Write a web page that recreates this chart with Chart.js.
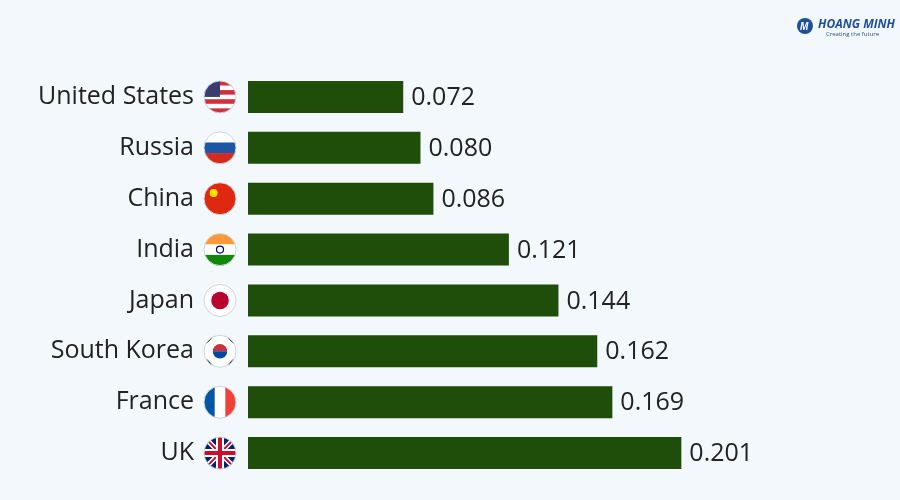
<!DOCTYPE html>
<html>
<head>
<meta charset="utf-8">
<script src="https://cdn.jsdelivr.net/npm/chart.js@4"></script>
<style>
  html, body { margin: 0; padding: 0; background: #f2f8fb; }
  #wrap { width: 900px; height: 500px; position: relative; }
</style>
</head>
<body>
<div id="wrap"><canvas id="chart"></canvas></div>
<script>
const countries = ['United States', 'Russia', 'China', 'India', 'Japan', 'South Korea', 'France', 'UK'];
const values = [0.072, 0.080, 0.086, 0.121, 0.144, 0.162, 0.169, 0.201];
const valueLabels = ['0.072', '0.080', '0.086', '0.121', '0.144', '0.162', '0.169', '0.201'];

// rough flag drawings, one per country
function drawFlag(ctx, name, x, y, r) {
    ctx.save();
    ctx.beginPath();
    ctx.arc(x, y, r, 0, Math.PI * 2);
    ctx.clip();
    const L = x - r, T = y - r, S = r * 2;
    if (name === 'United States') {
        for (let i = 0; i < 7; i++) {
            ctx.fillStyle = i % 2 ? '#fff' : '#d22f3c';
            ctx.fillRect(L, T + i * S / 7, S, S / 7 + 0.5);
        }
        ctx.fillStyle = '#3c3b6e';
        ctx.fillRect(L, T, S * 0.5, S * 0.5);
    } else if (name === 'Russia') {
        ['#fff', '#1c57a5', '#d52b1e'].forEach((c, i) => { ctx.fillStyle = c; ctx.fillRect(L, T + i * S / 3, S, S / 3 + 0.5); });
    } else if (name === 'China') {
        ctx.fillStyle = '#de2910'; ctx.fillRect(L, T, S, S);
        ctx.fillStyle = '#ffde00';
        ctx.beginPath(); ctx.arc(x - r * 0.4, y - r * 0.35, r * 0.25, 0, 7); ctx.fill();
    } else if (name === 'India') {
        ['#ff9933', '#fff', '#138808'].forEach((c, i) => { ctx.fillStyle = c; ctx.fillRect(L, T + i * S / 3, S, S / 3 + 0.5); });
        ctx.strokeStyle = '#000080'; ctx.lineWidth = 1.2;
        ctx.beginPath(); ctx.arc(x, y, r * 0.22, 0, 7); ctx.stroke();
    } else if (name === 'Japan') {
        ctx.fillStyle = '#fff'; ctx.fillRect(L, T, S, S);
        ctx.fillStyle = '#bc002d';
        ctx.beginPath(); ctx.arc(x, y, r * 0.55, 0, 7); ctx.fill();
    } else if (name === 'South Korea') {
        ctx.fillStyle = '#fff'; ctx.fillRect(L, T, S, S);
        ctx.fillStyle = '#cd2e3a';
        ctx.beginPath(); ctx.arc(x, y, r * 0.45, Math.PI, 0); ctx.fill();
        ctx.fillStyle = '#0047a0';
        ctx.beginPath(); ctx.arc(x, y, r * 0.45, 0, Math.PI); ctx.fill();
        ctx.strokeStyle = '#000'; ctx.lineWidth = 2;
        [[-0.7, -0.7], [0.7, -0.7], [-0.7, 0.7], [0.7, 0.7]].forEach(p => {
            ctx.beginPath();
            ctx.moveTo(x + p[0] * r - 3, y + p[1] * r + 3 * Math.sign(p[0] * p[1]));
            ctx.lineTo(x + p[0] * r + 3, y + p[1] * r - 3 * Math.sign(p[0] * p[1]));
            ctx.stroke();
        });
    } else if (name === 'France') {
        ['#0055a4', '#fff', '#ef4135'].forEach((c, i) => { ctx.fillStyle = c; ctx.fillRect(L + i * S / 3, T, S / 3 + 0.5, S); });
    } else if (name === 'UK') {
        ctx.fillStyle = '#012169'; ctx.fillRect(L, T, S, S);
        ctx.strokeStyle = '#fff'; ctx.lineWidth = 5;
        ctx.beginPath(); ctx.moveTo(L, T); ctx.lineTo(L + S, T + S); ctx.moveTo(L + S, T); ctx.lineTo(L, T + S); ctx.stroke();
        ctx.strokeStyle = '#c8102e'; ctx.lineWidth = 2;
        ctx.stroke();
        ctx.strokeStyle = '#fff'; ctx.lineWidth = 8;
        ctx.beginPath(); ctx.moveTo(x, T); ctx.lineTo(x, T + S); ctx.moveTo(L, y); ctx.lineTo(L + S, y); ctx.stroke();
        ctx.strokeStyle = '#c8102e'; ctx.lineWidth = 4;
        ctx.stroke();
    }
    ctx.restore();
    ctx.strokeStyle = '#d0d4d8'; ctx.lineWidth = 1;
    ctx.beginPath(); ctx.arc(x, y, r, 0, Math.PI * 2); ctx.stroke();
}

const extrasPlugin = {
    id: 'extras',
    afterDatasetsDraw(chart) {
        const ctx = chart.ctx;
        const meta = chart.getDatasetMeta(0);
        const yScale = chart.scales.y;
        ctx.save();
        ctx.font = "25px 'Open Sans', sans-serif";
        ctx.fillStyle = '#222';
        ctx.textBaseline = 'middle';
        meta.data.forEach((bar, i) => {
            ctx.fillText(valueLabels[i], bar.x + 8, bar.y + 1);
            drawFlag(ctx, countries[i], 220, yScale.getPixelForTick(i), 16);
        });
        // logo
        ctx.font = "bold italic 12px 'Open Sans', sans-serif";
        ctx.fillStyle = '#1d4f9c';
        ctx.textBaseline = 'alphabetic';
        ctx.fillText('HOANG MINH', 818, 28);
        ctx.font = "6px 'Open Sans', sans-serif";
        ctx.fillText('Creating the future', 826, 36);
        ctx.beginPath(); ctx.arc(805, 26, 8, 0, 7); ctx.fill();
        ctx.fillStyle = '#fff'; ctx.font = "bold italic 10px sans-serif";
        ctx.fillText('M', 800, 30);
        ctx.restore();
    }
};

new Chart(document.getElementById('chart').getContext('2d'), {
    type: 'bar',
    data: {
        labels: countries,
        datasets: [{
            data: values,
            backgroundColor: '#1f4d0a',
            barPercentage: 0.63,
            categoryPercentage: 1
        }]
    },
    options: {
        responsive: true,
        maintainAspectRatio: false,
        animation: false,
        indexAxis: 'y',
        layout: { padding: { top: 71.5, bottom: 21.5, left: 0, right: 113 } },
        plugins: { legend: { display: false }, tooltip: { enabled: false } },
        scales: {
            x: { display: false, min: 0, max: 0.25 },
            y: {
                grid: { display: false },
                border: { display: false },
                afterFit: function(scale) {
                    scale.width = 248;
                    scale.paddingTop = 0;
                    scale.paddingBottom = 0;
                },
                ticks: {
                    padding: 46,
                    color: '#222',
                    font: { size: 25, family: "'Open Sans', sans-serif" }
                }
            }
        }
    },
    plugins: [extrasPlugin]
});
</script>
</body>
</html>
